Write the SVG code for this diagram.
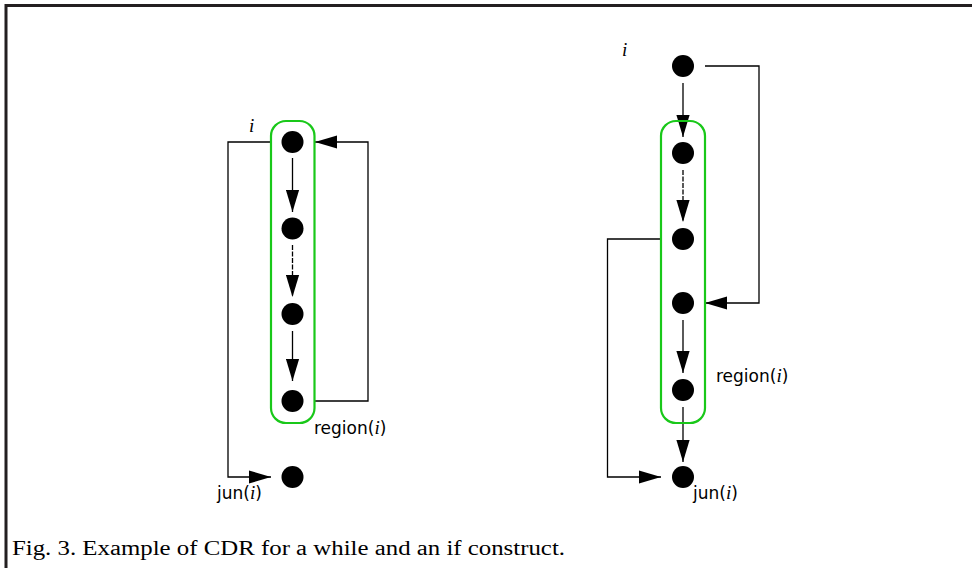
<svg xmlns="http://www.w3.org/2000/svg" width="972" height="568" viewBox="0 0 972 568">
<style>
.node{fill:#000}
.region{fill:none;stroke:#19c819;stroke-width:2.2}
.edge{fill:none;stroke:#000;stroke-width:1.3}
.dash{stroke-dasharray:5 1.5}
.lbl{font-family:"DejaVu Sans","Liberation Sans",sans-serif;font-size:17px;fill:#000}
.it{font-family:"Liberation Serif",serif;font-style:italic;font-size:19px}
.cap{font-family:"Liberation Serif",serif;font-size:20px;fill:#000}
</style>
<defs>
<marker id="ah" markerUnits="userSpaceOnUse" markerWidth="22" markerHeight="14" viewBox="0 0 20 12" refX="20" refY="6" orient="auto">
<path d="M0,0 L20,6 L0,12 Z" fill="#000"/>
</marker>
</defs>
<g id="frame">
<path d="M6,568 V5.5 H972" fill="none" stroke="#231f20" stroke-width="3"/>
</g>
<g id="connectors">
<line class="edge" x1="292.5" y1="158" x2="292.5" y2="212" marker-end="url(#ah)"/>
<line class="edge dash" x1="292.5" y1="245" x2="292.5" y2="297" marker-end="url(#ah)"/>
<line class="edge" x1="292.5" y1="331" x2="292.5" y2="381" marker-end="url(#ah)"/>
<polyline class="edge" points="314,401 368,401 368,142 315,142" marker-end="url(#ah)"/>
<polyline class="edge" points="271,142 228,142 228,477 271,477" marker-end="url(#ah)"/>
<line class="edge" x1="683" y1="83" x2="683" y2="137" marker-end="url(#ah)"/>
<polyline class="edge" points="705,66 759,66 759,303 705,303" marker-end="url(#ah)"/>
<line class="edge dash" x1="683" y1="170" x2="683" y2="222" marker-end="url(#ah)"/>
<polyline class="edge" points="661,239 607.5,239 607.5,477 661,477" marker-end="url(#ah)"/>
<line class="edge" x1="683" y1="320" x2="683" y2="373" marker-end="url(#ah)"/>
<line class="edge" x1="683" y1="407" x2="683" y2="462" marker-end="url(#ah)"/>
</g>
<g id="region-left">
<rect class="region" x="271" y="121" width="43.5" height="302" rx="15"/>
<text class="lbl" x="314" y="434">region(<tspan class="it">i</tspan>)</text>
</g>
<g id="region-right">
<rect class="region" x="661" y="121" width="44" height="302" rx="15"/>
<text class="lbl" x="716" y="382">region(<tspan class="it">i</tspan>)</text>
</g>
<g id="L1"><circle class="node" cx="292.5" cy="142" r="11"/><text class="lbl it" x="249" y="132">i</text></g>
<g id="L2"><circle class="node" cx="292.5" cy="228.5" r="11"/></g>
<g id="L3"><circle class="node" cx="292.5" cy="314" r="11"/></g>
<g id="L4"><circle class="node" cx="292.5" cy="401" r="11"/></g>
<g id="Ljun"><circle class="node" cx="292.5" cy="477" r="11"/><text class="lbl" x="217" y="499">jun(<tspan class="it">i</tspan>)</text></g>
<g id="R0"><circle class="node" cx="683" cy="66" r="11"/><text class="lbl it" x="622" y="56">i</text></g>
<g id="R1"><circle class="node" cx="683" cy="153" r="11"/></g>
<g id="R2"><circle class="node" cx="683" cy="239" r="11"/></g>
<g id="R3"><circle class="node" cx="683" cy="303" r="11"/></g>
<g id="R4"><circle class="node" cx="683" cy="390" r="11"/></g>
<g id="Rjun"><circle class="node" cx="683" cy="477" r="11"/><text class="lbl" x="693" y="499">jun(<tspan class="it">i</tspan>)</text></g>
<g id="caption">
<text class="cap" x="12" y="555" textLength="553" lengthAdjust="spacingAndGlyphs">Fig. 3. Example of CDR for a while and an if construct.</text>
</g>
</svg>
